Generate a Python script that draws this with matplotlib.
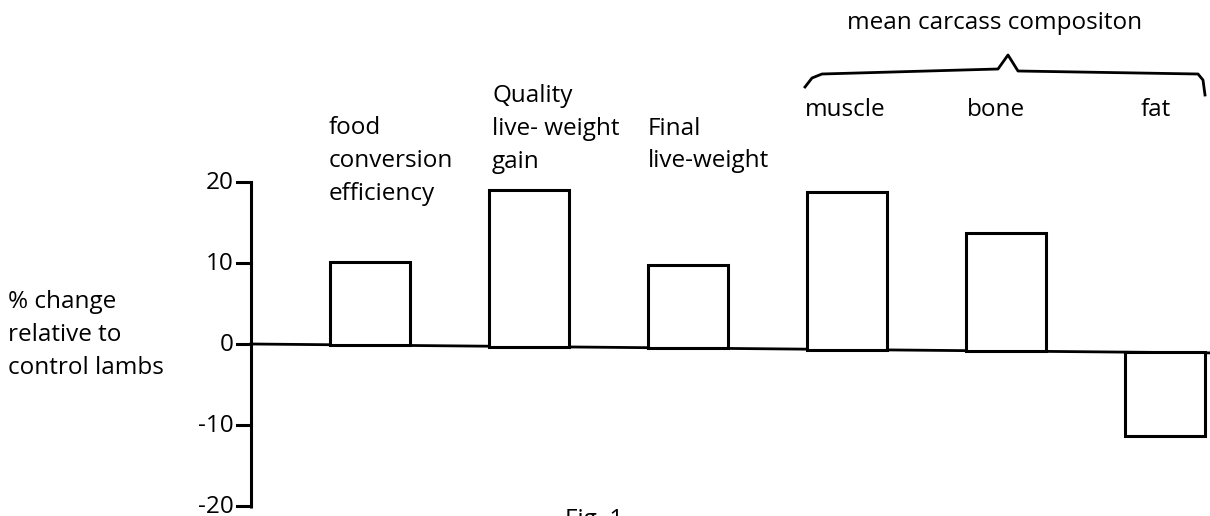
import numpy as np
import matplotlib.pyplot as plt

plt.rcParams['font.family'] = ['Open Sans', 'DejaVu Sans']

# data
labels = ['food\nconversion\nefficiency', 'Quality\nlive- weight\ngain',
          'Final\nlive-weight', 'muscle', 'bone', 'fat']
values = [10.1, 19.0, 9.8, 18.8, 13.7, -11.3]
yticks = [20, 10, 0, -10, -20]
ylabel = '% change\nrelative to\ncontrol lambs'
group_label = 'mean carcass compositon'

# the hand drawn zero line is slightly tilted
base_start, base_end = 0.0, -1.1

W, H = 1210, 516
FS = 17.5
LS = 1.48
fig = plt.figure(figsize=(W / 100, H / 100), dpi=100)
ax = fig.add_axes([0, 0, 1, 1])
ax.axis('off')

# 1 category = 159 px, first bar centre at x=370 px ; 8.1 px per unit, 0 at y=344 px
step, x0 = 159, 370
ax.set_xlim((0 - x0) / step, (W - x0) / step)
ax.set_ylim(-(H - 344) / 8.1, 344 / 8.1)

xpos = np.arange(len(values))
axis_x = (251 - x0) / step
x_end = (W - x0) / step


def baseline(x):
    return base_start + (base_end - base_start) * (x - axis_x) / (x_end - axis_x)


bottoms = baseline(xpos)
ax.bar(xpos, np.array(values) - bottoms, bottom=bottoms, width=0.5,
       facecolor='white', edgecolor='black', linewidth=2.2, zorder=3)
ax.plot([axis_x, x_end], [base_start, base_end], color='black', lw=2, zorder=2)

# y axis
ax.plot([axis_x, axis_x], [-20.3, 20], color='black', lw=2.2, solid_capstyle='butt')
tick_len = 14 / step
for t in yticks:
    ax.plot([axis_x - tick_len, axis_x], [t, t], color='black', lw=2.2)
    ax.text(axis_x - tick_len - 3 / step, t - 0.85, str(t), ha='right',
            va='baseline', fontsize=FS)


def px(x, y):
    return x / W, 1 - y / H


ax.text(*px(8, 335), ylabel, transform=fig.transFigure, ha='left', va='center',
        fontsize=FS, linespacing=LS)

# category labels above bars
label_pos = [(329, 161), (492, 129), (648, 145), (805, 110), (967, 110), (1141, 110)]
for lab, (lx, ly) in zip(labels, label_pos):
    ax.text(*px(lx, ly), lab, transform=fig.transFigure, ha='left', va='center',
            fontsize=FS, linespacing=LS)

ax.text(*px(995, 23), group_label, transform=fig.transFigure, ha='center',
        va='center', fontsize=FS)

# curly brace over the carcass bars
bx = [805, 812, 822, 998, 1008, 1018, 1198, 1203, 1205]
by = [87, 78, 74, 69, 55, 71, 74, 80, 95]
fx, fy = zip(*[px(a, b) for a, b in zip(bx, by)])
ax.plot(fx, fy, transform=fig.transFigure, color='black', lw=2)

# figure caption cut by the bottom edge, as in the source image
ax.text(*px(565, 508), 'Fig. 1', transform=fig.transFigure, ha='left', va='top',
        fontsize=FS)

fig.savefig('out.png', dpi=100)
